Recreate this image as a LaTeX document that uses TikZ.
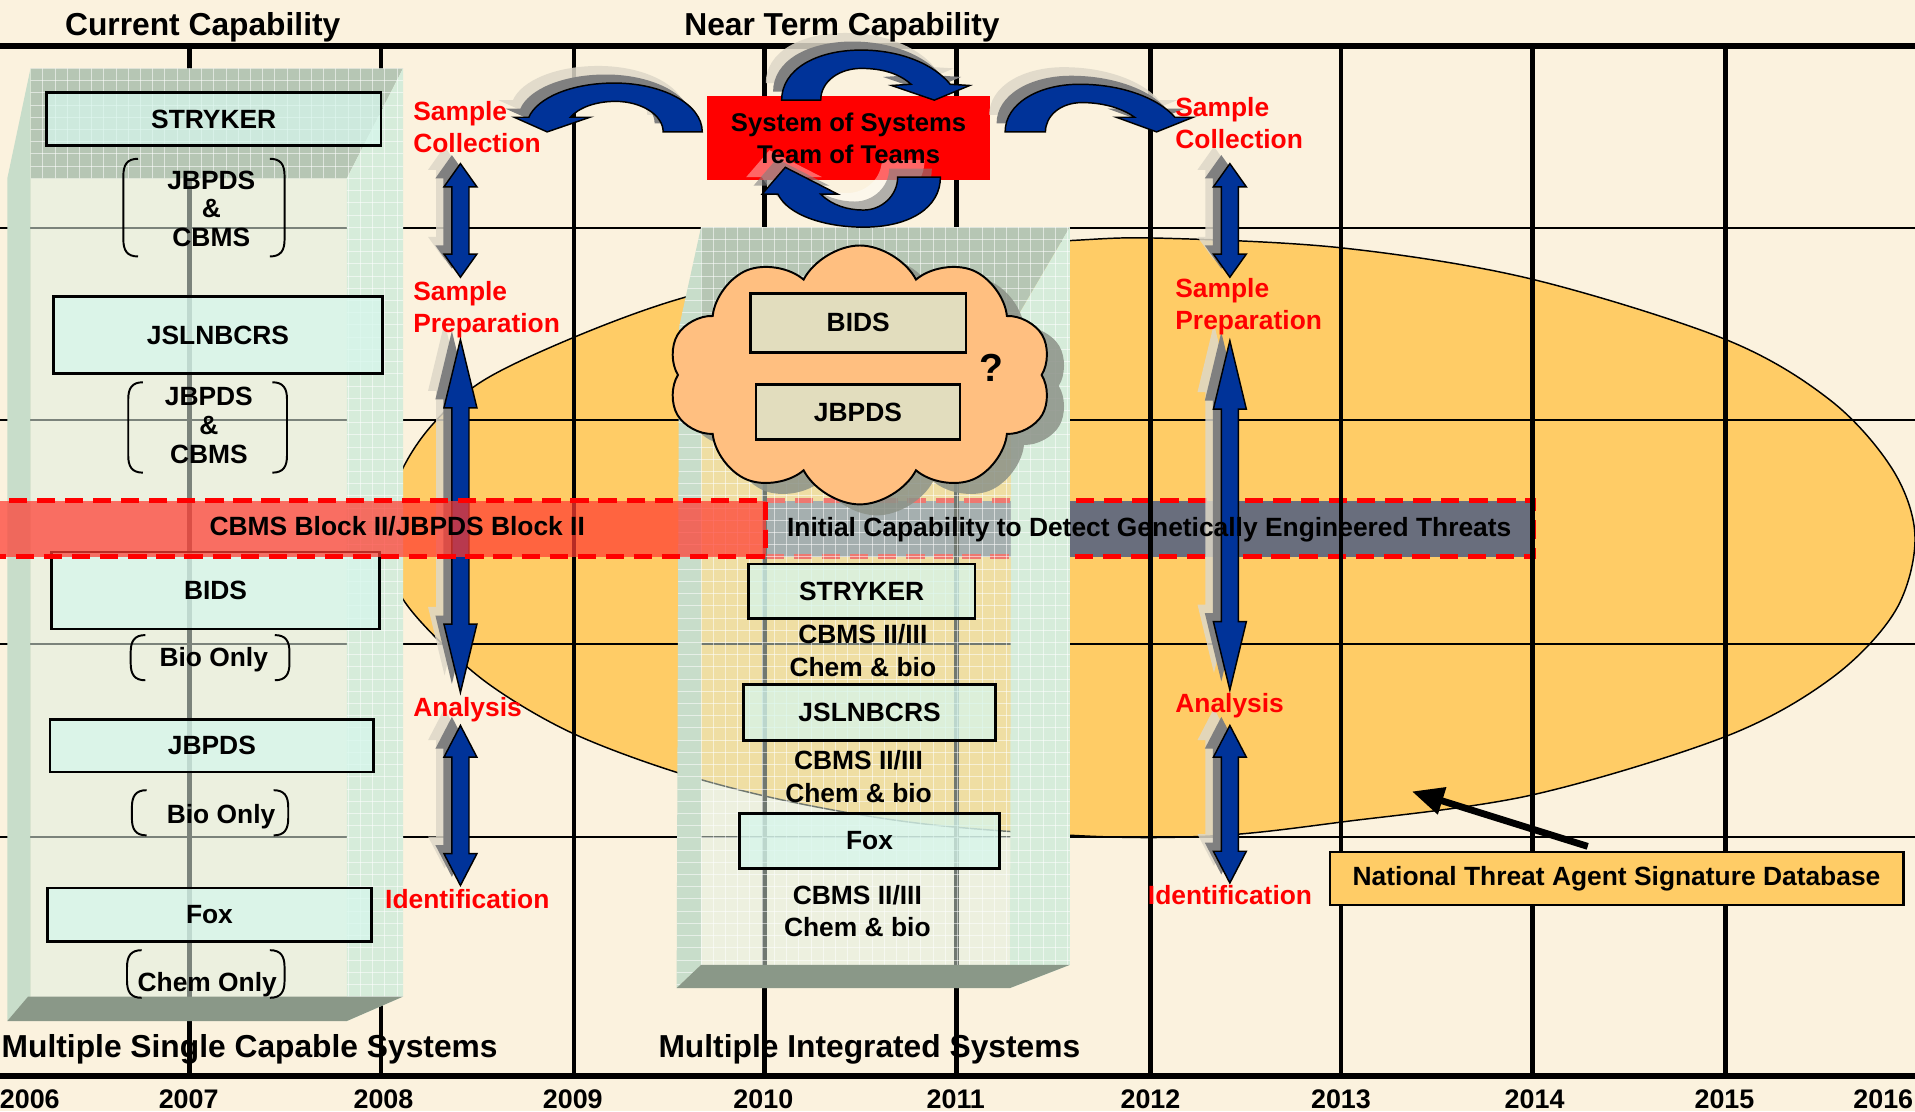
\documentclass[tikz,border=0pt]{standalone}
\usepackage{fontspec}
\setmainfont{Liberation Sans}
\usetikzlibrary{shapes.symbols,arrows.meta}
\definecolor{bgc}{RGB}{251,242,222}
\definecolor{ellc}{RGB}{255,204,102}
\definecolor{bluec}{RGB}{0,51,153}
\definecolor{greyband}{RGB}{105,110,125}
\definecolor{bandred}{RGB}{255,60,50}
\definecolor{intc}{RGB}{225,240,225}
\definecolor{leftface}{RGB}{200,221,202}
\definecolor{rightface}{RGB}{214,236,218}
\definecolor{topface}{RGB}{182,198,180}
\definecolor{basec}{RGB}{138,152,136}
\definecolor{cyanbox}{RGB}{214,246,236}
\definecolor{cloudc}{RGB}{255,191,128}
\definecolor{cloudsh}{RGB}{140,146,136}
\definecolor{tanbox}{RGB}{226,221,190}
\definecolor{shadowg}{RGB}{128,128,128}
\definecolor{shadowl}{RGB}{222,216,200}
\newcommand\dblshape[5]{\path[#1] (#2,#3) -- ({#2+13.5},{#3+#5}) -- ({#2+7},{#3+#5}) -- ({#2+7},{#4-#5}) -- ({#2+13.5},{#4-#5}) -- (#2,#4) -- ({#2-13.5},{#4-#5}) -- ({#2-7},{#4-#5}) -- ({#2-7},{#3+#5}) -- ({#2-13.5},{#3+#5}) -- cycle;}
\newcommand\dblarrow[4]{\dblshape{shL}{#1}{#2}{#3}{#4}\dblshape{shG}{#1}{#2}{#3}{#4}\dblshape{blu}{#1}{#2}{#3}{#4}}
\newcommand\brackets[4]{%
\draw[brk] ({#1+12},#3) .. controls ({#1+3},#3) and (#1,{#3+5}) .. (#1,{#3+14}) -- (#1,{#4-14}) .. controls (#1,{#4-5}) and ({#1+3},#4) .. ({#1+12},#4);
\draw[brk] ({#2-12},#3) .. controls ({#2-3},#3) and (#2,{#3+5}) .. (#2,{#3+14}) -- (#2,{#4-14}) .. controls (#2,{#4-5}) and ({#2-3},#4) .. ({#2-12},#4);}
\newcommand\caA[1]{\path[#1] (575,108) .. controls (575,85) and (542,68) .. (503,68) .. controls (468,68) and (440,80) .. (433,96) -- (421,96) -- (448,108) -- (483,96) -- (467,96) .. controls (474,88) and (488,83) .. (504,83) .. controls (525,83) and (543,94) .. (543,108) -- cycle;}
\newcommand\caB[1]{\path[#1] (640,82) .. controls (640,57) and (668,41) .. (705,41) .. controls (738,41) and (765,53) .. (778,69) -- (794,70) -- (765,82) -- (730,70) -- (746,69) .. controls (736,60) and (722,56) .. (705,56) .. controls (688,56) and (672,66) .. (672,82) -- cycle;}
\newcommand\caC[1]{\path[#1] (643,137) -- (686,159) -- (672,159) .. controls (681,168) and (694,172) .. (707,172) .. controls (722,172) and (735,160) .. (735,145) -- (770,145) .. controls (770,170) and (745,186) .. (707,186) .. controls (675,186) and (645,176) .. (637,159) -- (624,159) -- cycle;}
\newcommand\caD[1]{\path[#1] (823,108) .. controls (823,85) and (850,69) .. (884,69) .. controls (918,69) and (948,80) .. (962,96) -- (977,96) -- (947,108) -- (914,96) -- (929,96) .. controls (918,88) and (902,84) .. (886,84) .. controls (868,84) and (856,95) .. (856,108) -- cycle;}
\begin{document}
\begin{tikzpicture}[x=0.5pt,y=-0.5pt,
  txt/.style={font=\fontsize{10.8}{13}\selectfont\bfseries, inner sep=0pt, align=center},
  redtxt/.style={txt, text=red, align=left, anchor=base west},
  ttl/.style={font=\fontsize{13}{15}\selectfont\bfseries, inner sep=0pt, anchor=base},
  yr/.style={font=\fontsize{11}{13}\selectfont\bfseries, inner sep=0pt, anchor=base},
  sysbox/.style={txt, draw=black, line width=1.1pt, fill=cyanbox, fill opacity=0.75, text opacity=1},
  cldbox/.style={txt, draw=black, line width=1.1pt, fill=tanbox},
  brk/.style={draw=black, line width=0.8pt},
  yline/.style={line width=2pt, black},
  hthin/.style={line width=0.8pt, black},
  hthick/.style={line width=2.5pt, black},
  gridw/.style={white, line width=0.35pt, opacity=0.55},
  shL/.style={fill=shadowl, fill opacity=0.85, shift={(-13,-14)}},
  shG/.style={fill=shadowg, shift={(-7,-7)}},
  shLs/.style={fill=white, fill opacity=0.4, shift={(-13,-14)}},
  shGs/.style={fill=shadowg, fill opacity=0.6, shift={(-7,-7)}},
  blu/.style={fill=bluec, draw=black, line width=0.6pt},
  dashband/.style={draw=red, line width=2pt, dash pattern=on 7.5pt off 4pt},
  cldshape/.style={cloud, cloud puffs=10, cloud puff arc=125, aspect=1.5, minimum width=157pt, minimum height=106pt, inner sep=0pt}
]
\useasboundingbox (0,0) rectangle (1568,910);
\clip (0,0) rectangle (1568,910);
\fill[bgc] (0,0) rectangle (1568,910);
% big ellipse
\filldraw[fill=ellc, draw=black, line width=0.6pt] plot[smooth cycle, tension=0.55] coordinates {(316,440) (326,392) (352,350) (395,312) (468,277) (552,246) (650,222) (760,205) (876,197) (950,195) (1099,203) (1252,228) (1413,278) (1499,328) (1550,385) (1568,440) (1552,500) (1500,555) (1413,603) (1254,651) (1099,673) (1000,684) (900,685) (760,675) (650,657) (556,633) (468,600) (400,560) (350,515) (324,480)};
% grey band
\fill[greyband] (627,410) rectangle (1256,456);
\draw[dashband] (627,410) rectangle (1256,456);
% grid
\foreach \yy in {187,344,527,685} \draw[hthin] (0,\yy) -- (1568,\yy);
\foreach \xx in {155,312,470,626,783,942,1098,1255,1413} \draw[yline] (\xx,38) -- (\xx,881);
\draw[hthick] (0,38) -- (1568,38);
\draw[hthick] (0,881) -- (1568,881);
% left glass box
\fill[intc, fill opacity=0.55] (25,146) rectangle (284,816);
\fill[topface] (25,56) -- (330,56) -- (284,146) -- (25,146) -- cycle;
\fill[leftface] (25,56) -- (25,816) -- (6,836) -- (6,146) -- cycle;
\fill[rightface] (330,56) -- (330,816) -- (284,836) -- (284,146) -- cycle;
\begin{scope}
\clip (25,56) -- (330,56) -- (330,816) -- (284,836) -- (284,146) -- (25,146) -- cycle;
\foreach \gx in {25,35,...,335} \draw[gridw] (\gx,50) -- (\gx,840);
\foreach \gy in {56,66,...,836} \draw[gridw] (20,\gy) -- (335,\gy);
\end{scope}
\fill[basec] (23,816) -- (330,816) -- (284,836) -- (6,836) -- cycle;
% middle glass box
\fill[intc, fill opacity=0.5] (574,268) rectangle (828,790);
\fill[topface] (574,186) -- (876,186) -- (828,268) -- (574,268) -- cycle;
\fill[leftface] (574,186) -- (574,790) -- (554,809) -- (556,268) -- cycle;
\fill[rightface] (876,186) -- (876,790) -- (827,809) -- (828,268) -- cycle;
\begin{scope}
\clip (574,186) -- (876,186) -- (876,790) -- (827,809) -- (554,809) -- (556,268) -- cycle;
\foreach \gx in {574,584,...,880} \draw[gridw] (\gx,180) -- (\gx,815);
\foreach \gy in {186,196,...,815} \draw[gridw] (550,\gy) -- (880,\gy);
\end{scope}
\fill[basec] (574,790) -- (876,790) -- (827,809) -- (554,809) -- cycle;
% left box contents
\node[sysbox, minimum width=137pt, minimum height=21.5pt] (lstryker) at (175,97.5) {STRYKER};
\brackets{101}{233}{130}{210}
\node[txt, font=\fontsize{10.8}{11.7}\selectfont\bfseries, anchor=base] (lgrp1) at (173,201.8) {JBPDS\\\&\\CBMS};
\node[sysbox, minimum width=134.5pt, minimum height=31.5pt] (ljsl) at (178.5,274.5) {JSLNBCRS};
\brackets{105}{235}{313}{387}
\node[txt, font=\fontsize{10.8}{11.7}\selectfont\bfseries, anchor=base] (lgrp2) at (171,379.2) {JBPDS\\\&\\CBMS};
\node[sysbox, minimum width=134.5pt, minimum height=31.5pt] (lbids) at (176.5,483.5) {BIDS};
\brackets{107}{237}{520}{557}
\node[txt, anchor=base] (lbio1) at (175,545.7) {Bio Only};
\node[sysbox, minimum width=132.5pt, minimum height=21.5pt] (ljbpds) at (173.5,610.5) {JBPDS};
\brackets{108}{236}{647}{684}
\node[txt, anchor=base] (lbio2) at (181,674.5) {Bio Only};
\node[sysbox, minimum width=132.5pt, minimum height=22pt] (lfox) at (171.5,749) {Fox};
\brackets{104}{233}{778}{817}
\node[txt, anchor=base] (lchem) at (169.7,811.8) {Chem Only};
% middle box contents
\node[sysbox, minimum width=92.8pt, minimum height=22.2pt] (mstryker) at (705.5,484) {STRYKER};
\node[txt, font=\fontsize{10.8}{13.6}\selectfont\bfseries, anchor=base] (mgrp1) at (706.5,554) {CBMS II/III\\Chem \& bio};
\node[sysbox, minimum width=103.2pt, minimum height=23.1pt] (mjsl) at (712,583.4) {JSLNBCRS};
\node[txt, font=\fontsize{10.8}{13.6}\selectfont\bfseries, anchor=base] (mgrp2) at (703,657) {CBMS II/III\\Chem \& bio};
\node[sysbox, minimum width=106.3pt, minimum height=22.5pt] (mfox) at (712,688.5) {Fox};
\node[txt, font=\fontsize{10.8}{13.2}\selectfont\bfseries, anchor=base] (mgrp3) at (702,767) {CBMS II/III\\Chem \& bio};
% double arrows
\dblarrow{377}{134}{227}{19}
\dblarrow{377}{278}{567}{56}
\dblarrow{377}{594}{725}{26}
\dblarrow{1007}{134}{227}{19}
\dblarrow{1007}{279}{565}{56}
\dblarrow{1007}{594}{723}{26}
% red band
\fill[bandred, fill opacity=0.72] (-10,410) rectangle (627,456);
\draw[dashband] (-10,410) rectangle (627,456);
% red box and curved arrows
\fill[red] (579,78.6) rectangle (810.6,147.4);
\caA{shL}\caA{shG}\caA{blu}
\caB{shL}\caB{shG}\caB{blu}
\caC{shLs}\caC{shGs}\caC{blu}
\caD{shL}\caD{shG}\caD{blu}
\node[txt, minimum width=115.8pt, minimum height=34.4pt, font=\fontsize{10.5}{13}\selectfont\bfseries] (sos) at (694.8,113) {System of Systems\\Team of Teams};
% cloud
\node[cldshape, fill=cloudsh, fill opacity=0.85] (cldshadow) at (718,316) {};
\node[cldshape, fill=cloudc, draw=black, line width=0.8pt] (cld) at (704,307) {};
\node[cldbox, minimum width=88.2pt, minimum height=24.2pt] (cbids) at (702.7,264.3) {BIDS};
\node[cldbox, minimum width=83.5pt, minimum height=22.3pt] (cjbpds) at (702.5,337.4) {JBPDS};
\node[txt, font=\fontsize{16}{18}\selectfont\bfseries] (qmark) at (812,301) {?};
% band texts
\node[txt] (bandl) at (325.3,431.2) {CBMS Block II/JBPDS Block II};
\node[txt, anchor=base] (bandr) at (941,439) {Initial Capability to Detect Genetically Engineered Threats};
% red labels
\node[redtxt] (sc1) at (338,124.8) {Sample\\Collection};
\node[redtxt] (sp1) at (338,272) {Sample\\Preparation};
\node[redtxt] (an1) at (338,586.6) {Analysis};
\node[redtxt] (id1) at (315,744) {Identification};
\node[redtxt] (sc2) at (962,121.3) {Sample\\Collection};
\node[redtxt] (sp2) at (962,269.5) {Sample\\Preparation};
\node[redtxt] (an2) at (962,583.3) {Analysis};
\node[redtxt] (id2) at (939.5,740.8) {Identification};
% titles
\node[ttl] (tcur) at (166,29) {Current Capability};
\node[ttl] (tnear) at (689.4,29) {Near Term Capability};
\node[ttl, anchor=base west] (tmsc) at (1,866) {Multiple Single Capable Systems};
\node[ttl, anchor=base west] (tmis) at (538.8,866) {Multiple Integrated Systems};
% years
\node[yr] (y2006) at (24.4,908) {2006};
\node[yr] (y2007) at (154.5,908) {2007};
\node[yr] (y2008) at (314,908) {2008};
\node[yr] (y2009) at (469,908) {2009};
\node[yr] (y2010) at (625,908) {2010};
\node[yr] (y2011) at (782.6,908) {2011};
\node[yr] (y2012) at (942,908) {2012};
\node[yr] (y2013) at (1098,908) {2013};
\node[yr] (y2014) at (1256.5,908) {2014};
\node[yr] (y2015) at (1412,908) {2015};
\node[yr] (y2016) at (1542,908) {2016};
% database
\node[txt, draw=black, line width=1pt, fill=ellc, minimum width=234.8pt, minimum height=21.8pt] (ntasd) at (1323.6,719.2) {National Threat Agent Signature Database};
\coordinate (dbtail) at (1300,693);
\coordinate (dbtip) at (1156,648);
\draw[line width=2.8pt, -{Triangle[length=13pt,width=11pt]}] (dbtail) -- (dbtip);
\end{tikzpicture}
\end{document}
